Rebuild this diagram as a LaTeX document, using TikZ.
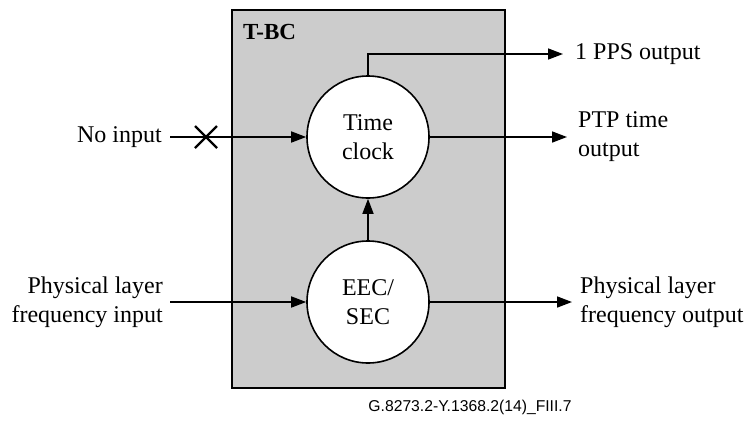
\documentclass[tikz,border=0pt]{standalone}
\usepackage{fontspec}
\setmainfont{Liberation Serif}
\newfontfamily\capfont{Liberation Sans}
\usetikzlibrary{arrows.meta,calc}
\definecolor{boxgray}{HTML}{CCCCCC}
\begin{document}
\begin{tikzpicture}[x=1pt,y=-1pt,
  every node/.style={font=\fontsize{24}{29}\selectfont, inner sep=0pt},
  conn/.style={line width=1.6pt, -{Triangle[length=15pt,width=11pt]}},
  blob/.style={circle, draw, line width=1.6pt, fill=white, minimum size=122pt, align=center}]
\useasboundingbox (0,0) rectangle (748,421);
\node[draw, line width=1.6pt, fill=boxgray, minimum width=273pt, minimum height=378pt, anchor=north west] (box) at (231,9) {};
\node[anchor=west, font=\fontsize{23}{27}\selectfont\bfseries] (lbl) at (243,32) {T-BC};
\node[blob] (tc) at (368,137) {Time\\clock};
\node[blob] (eec) at (368,302) {EEC/\\SEC};
% No input
\node[anchor=east] (noin) at (162,137) {No input};
\coordinate (nostart) at (170,137);
\draw[conn] (nostart) -- (tc.west);
\coordinate (xc) at (206,137);
\draw[line width=2.2pt] ($(xc)+(-11,-11)$) -- ($(xc)+(11,11)$);
\draw[line width=2.2pt] ($(xc)+(-11,11)$) -- ($(xc)+(11,-11)$);
% PTP time output
\node[anchor=west, align=left] (ptp) at (578,137) {PTP time\\output};
\coordinate (ptpend) at (567,137);
\draw[conn] (tc.east) -- (ptpend);
% 1 PPS output
\node[anchor=west] (pps) at (575,54) {1 PPS output};
\coordinate (ppsend) at (563,54);
\draw[conn] (tc.north) |- (ppsend);
% EEC to Time clock
\draw[conn] (eec.north) -- (tc.south);
% Physical layer input
\node[anchor=east, align=right] (phin) at (163,302) {Physical layer\\frequency input};
\coordinate (phstart) at (170,302);
\draw[conn] (phstart) -- (eec.west);
% Physical layer output
\node[anchor=west, align=left] (phout) at (580,302) {Physical layer\\frequency output};
\coordinate (phend) at (572,302);
\draw[conn] (eec.east) -- (phend);
% caption
\node[font=\capfont\fontsize{15.7}{18}\selectfont] (cap) at (470,407) {G.8273.2-Y.1368.2(14)\_FIII.7};
\end{tikzpicture}
\end{document}
